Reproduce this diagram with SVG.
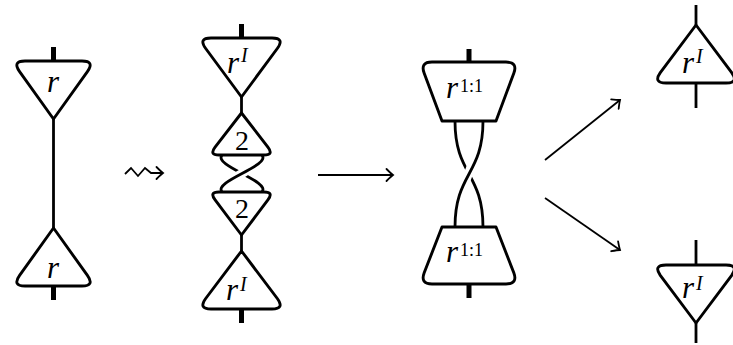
<svg xmlns="http://www.w3.org/2000/svg" width="733" height="345" viewBox="0 0 733 345">
<style>
.box{fill:#fff;stroke:#000;stroke-width:2.9;stroke-linejoin:round}
.wire{fill:none;stroke:#000;stroke-width:2.8}
.bar{fill:none;stroke:#000;stroke-width:5}
.halo{fill:none;stroke:#fff;stroke-width:9}
.arr{fill:none;stroke:#000;stroke-width:1.8}
text{font-family:"Liberation Serif","Times New Roman",serif}
.it{font-style:italic;font-size:31px}
.sup{font-style:italic;font-size:20px}
.num{font-style:normal;font-size:28px}
.sn{font-style:normal;font-size:18px}
</style>
<defs>
<marker id="ah" markerUnits="userSpaceOnUse" markerWidth="20" markerHeight="20" refX="0" refY="0" viewBox="-10 -10 20 20" orient="auto" overflow="visible">
<path d="M-6.5,-6 Q-2,-1.5 0,0 Q-2,1.5 -6.5,6" fill="none" stroke="#000" stroke-width="1.8" stroke-linecap="round"/>
</marker>
</defs>

<g id="connectors">
<line class="bar" x1="53.5" y1="47" x2="53.5" y2="61"/>
<line class="wire" x1="53.5" y1="119" x2="53.5" y2="228"/>
<line class="bar" x1="53.5" y1="286" x2="53.5" y2="300"/>

<line class="bar" x1="241.5" y1="24" x2="241.5" y2="38"/>
<line class="wire" x1="241.5" y1="97" x2="241.5" y2="113"/>
<path class="wire" d="M222,155 C213,166 271,181 262,192"/>
<path class="halo" d="M257,164 C250,170 234,177 227,183"/>
<path class="wire" d="M262,155 C271,166 213,181 222,192"/>
<line class="wire" x1="241.5" y1="235" x2="241.5" y2="251"/>
<line class="bar" x1="241.5" y1="309" x2="241.5" y2="323"/>

<line class="bar" x1="469" y1="49" x2="469" y2="62"/>
<path class="wire" d="M455,121 C455,175 483,173 483,227"/>
<path class="halo" d="M477,150 C474,162 464,182 461,196"/>
<path class="wire" d="M483,121 C483,175 455,173 455,227"/>
<line class="bar" x1="469" y1="284" x2="469" y2="298"/>

<line class="wire" x1="696" y1="5" x2="696" y2="25"/>
<line class="wire" x1="696" y1="83" x2="696" y2="108"/>
<line class="wire" x1="696" y1="240" x2="696" y2="265"/>
<line class="wire" x1="696" y1="323" x2="696" y2="343"/>

<path class="arr" d="M125,174 L131,168 L138,176 L145,168 L151,173 H163" marker-end="url(#ah)"/>
<line class="arr" x1="318" y1="175" x2="393" y2="175" marker-end="url(#ah)"/>
<line class="arr" x1="545" y1="160" x2="620" y2="100" marker-end="url(#ah)"/>
<line class="arr" x1="545" y1="198" x2="620" y2="250" marker-end="url(#ah)"/>
</g>

<g id="r-top">
<path class="box" d="M25,61 H82 Q95,61 87.4,71.6 L53.5,119 L19.6,71.6 Q12,61 25,61 Z"/>
<text class="it" x="53" y="92" text-anchor="middle">r</text>
</g>
<g id="r-bottom">
<path class="box" d="M25,286 H82 Q95,286 87.4,275.4 L53.5,228 L19.6,275.4 Q12,286 25,286 Z"/>
<text class="it" x="53" y="278" text-anchor="middle">r</text>
</g>

<g id="rI-top">
<path class="box" d="M211,38 H272 Q285,38 277.3,48.5 L241.5,97 L205.7,48.5 Q198,38 211,38 Z"/>
<text class="it" x="227" y="73">r<tspan class="sup" x="241" y="62">I</tspan></text>
</g>
<g id="two-top">
<path class="box" d="M219,155 H264 Q274,155 267.9,147.1 L241.5,113 L215.1,147.1 Q209,155 219,155 Z"/>
<text class="num" x="242" y="150" text-anchor="middle">2</text>
</g>
<g id="two-bottom">
<path class="box" d="M219,192 H264 Q274,192 267.9,199.9 L241.5,235 L215.1,199.9 Q209,192 219,192 Z"/>
<text class="num" x="242" y="218" text-anchor="middle">2</text>
</g>
<g id="rI-bottom">
<path class="box" d="M211,309 H272 Q285,309 277.3,298.5 L241.5,251 L205.7,298.5 Q198,309 211,309 Z"/>
<text class="it" x="226" y="300">r<tspan class="sup" x="240" y="291">I</tspan></text>
</g>

<g id="r11-top">
<path class="box" d="M432,62 H506 Q518,62 513.8,73.2 L496,121 H442 L424.2,73.2 Q420,62 432,62 Z"/>
<text class="it" x="446" y="98">r<tspan class="sn" x="460" y="92">1:1</tspan></text>
</g>
<g id="r11-bottom">
<path class="box" d="M432,284 H506 Q518,284 513.8,272.8 L496,227 H442 L424.2,272.8 Q420,284 432,284 Z"/>
<text class="it" x="446" y="262">r<tspan class="sn" x="460" y="256">1:1</tspan></text>
</g>

<g id="rI-right-top">
<path class="box" d="M666,83 H726 Q739,83 731.7,72.6 L696,25 L660.3,72.6 Q653,83 666,83 Z"/>
<text class="it" x="682" y="73">r<tspan class="sup" x="696" y="63">I</tspan></text>
</g>
<g id="rI-right-bottom">
<path class="box" d="M666,265 H726 Q739,265 731.7,275.4 L696,323 L660.3,275.4 Q653,265 666,265 Z"/>
<text class="it" x="682" y="298">r<tspan class="sup" x="696" y="290">I</tspan></text>
</g>
</svg>
